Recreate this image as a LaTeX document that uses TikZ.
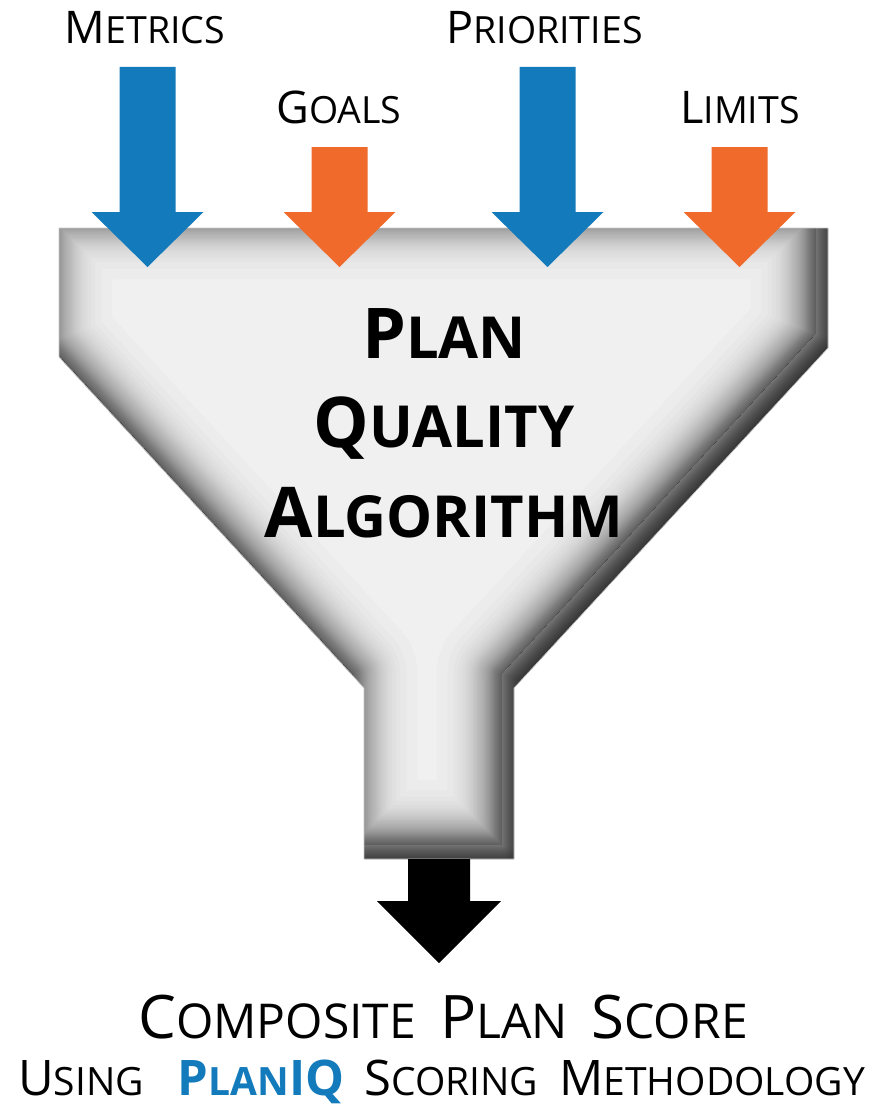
\documentclass[tikz,border=0pt]{standalone}
\usepackage{fontspec}
\setmainfont{Open Sans}
\definecolor{iqblue}{RGB}{19,123,187}
\definecolor{iqorange}{RGB}{240,106,43}
\definecolor{funnelgrey}{RGB}{240,240,240}

% fake small caps: size of capitals, size of small letters, capital, rest
\newcommand\fsc[4]{{\fontsize{#1}{#1}\selectfont #3}{\fontsize{#2}{#2}\selectfont #4}}

% outline of the funnel
\def\funnelpath{(59,228) -- (828,228) -- (828,348) -- (514,688) -- (514,859) -- (364,859) -- (364,688) -- (59,357) -- cycle}

% block arrow pointing down: centre x, top y, tip y, shaft half width, head half width, head length, colour
\newcommand\blockarrow[7]{%
  \fill[#7] (#1-#4,#2) -- (#1+#4,#2) -- (#1+#4,#3-#6) -- (#1+#5,#3-#6)
    -- (#1,#3) -- (#1-#5,#3-#6) -- (#1-#4,#3-#6) -- cycle;}

% inner shadow: blur radius and per-layer opacity
\def\sig{26}
\def\layeralpha{0.013767}

\tikzset{
  lab/.style={inner sep=0pt, anchor=base, text=black},
  layer/.style={opacity=\layeralpha, line join=round},
}

\begin{document}
\begin{tikzpicture}[x=1pt, y=-1pt]
\useasboundingbox (0,0) rectangle (880,1108);

% funnel body with a soft inner shadow (light from the upper left)
\begin{scope}
  \clip \funnelpath;
  \fill[funnelgrey] \funnelpath;
  \begin{scope}[shift={(-12,-14)}]
    % inside the shifted outline: shadow fading inwards
    \begin{scope}
      \clip \funnelpath;
      \foreach \k in {1,...,49}{
        \pgfmathsetmacro\p{0.5^(\k/50)}
        \pgfmathsetmacro\w{2*\sig*ln(\p/(1-\p))/1.702}
        \draw[black, layer, line width=\w pt] \funnelpath;
      }
    \end{scope}
    % outside the shifted outline: shadow deepening outwards
    \begin{scope}[even odd rule]
      \clip (-200,-200) rectangle (1100,1300) \funnelpath;
      \fill[black] (-200,-200) rectangle (1100,1300);
      \foreach \k in {1,...,49}{
        \pgfmathsetmacro\p{0.5^(\k/50)}
        \pgfmathsetmacro\w{2*\sig*ln(\p/(1-\p))/1.702}
        \draw[funnelgrey, layer, line width=\w pt] \funnelpath;
      }
    \end{scope}
  \end{scope}
\end{scope}
\draw[black!22, line width=0.6pt] \funnelpath;

% inputs
\blockarrow{147.5}{67}{267}{28}{56}{55}{iqblue}
\blockarrow{339.5}{147}{267}{28}{56}{55}{iqorange}
\blockarrow{547.5}{67}{267}{28}{56}{55}{iqblue}
\blockarrow{739.5}{147}{267}{28}{56}{55}{iqorange}

% output
\blockarrow{439}{859}{963}{31}{62}{62}{black}

% labels
\node[lab] (metrics) at (145,44) {\fsc{45}{37.5}{M}{ETRICS}};
\node[lab] (goals) at (339,123) {\fsc{45}{37.5}{G}{OALS}};
\node[lab] (priorities) at (544.5,44) {\fsc{45}{37.5}{P}{RIORITIES}};
\node[lab] (limits) at (740,123) {\fsc{45}{37.5}{L}{IMITS}};

\node[lab, font=\bfseries] (t1) at (444,358) {\fsc{70}{58}{P}{LAN}};
\node[lab, font=\bfseries] (t2) at (444,447) {\fsc{70}{58}{Q}{UALITY}};
\node[lab, font=\bfseries] (t3) at (444,537) {\fsc{70}{58}{A}{LGORITHM}};

\node[lab] (score) at (443,1038) {\fsc{60}{48}{C}{OMPOSITE}\hspace{24pt}\fsc{60}{48}{P}{LAN}\hspace{24pt}\fsc{60}{48}{S}{CORE}};
\node[lab] (method) at (441.5,1095) {\fsc{49}{39}{U}{SING}\hspace{34pt}{\bfseries\color{iqblue}\fsc{49}{39}{P}{LAN}\fontsize{49}{49}\selectfont IQ}\hspace{20pt}\fsc{49}{39}{S}{CORING}\hspace{21pt}\fsc{49}{39}{M}{ETHODOLOGY}};
\end{tikzpicture}
\end{document}
